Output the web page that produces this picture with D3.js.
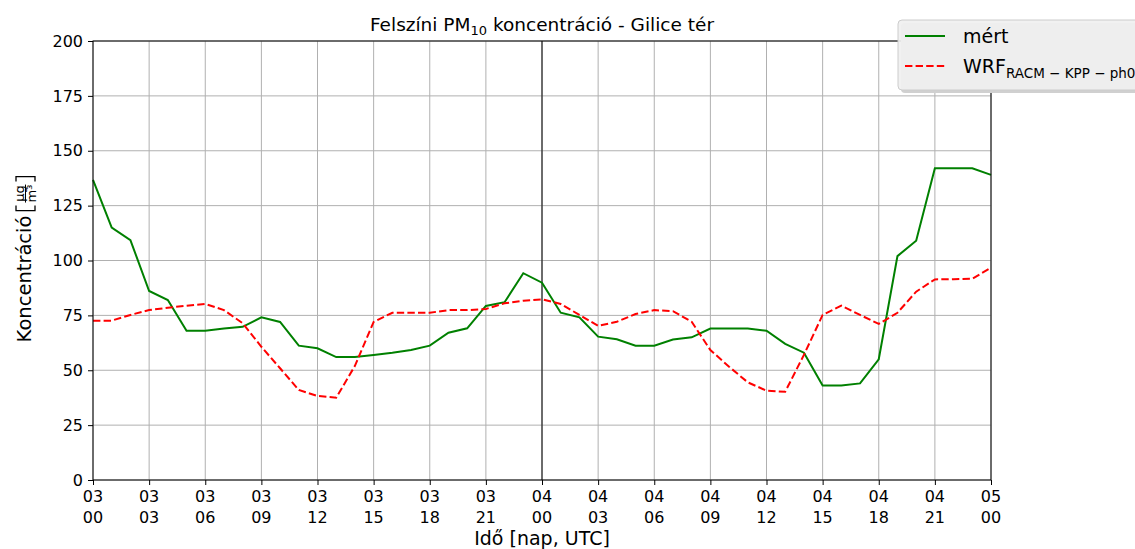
<!DOCTYPE html>
<html>
<head>
<meta charset="utf-8">
<script src="https://cdn.jsdelivr.net/npm/d3@7"></script>
<style>
  body { margin: 0; background: #fff; }
  text { font-family: "DejaVu Sans", sans-serif; fill: #000; }
</style>
</head>
<body>
<div class="chart"></div>
<script>
// hours since 03 00 UTC
var hours = d3.range(0, 49);

// measured PM10 (mért)
var measured = [136.7, 115, 109.3, 86.1, 82, 68, 68, 69, 69.8, 74.1, 72, 61.2, 60, 56, 56, 57, 58, 59.2, 61.2, 67.1,
  69.1, 79.3, 81, 94.2, 89.9, 76.2, 74.1, 65.3, 64.1, 61.2, 61.2, 64, 65, 69, 69, 69, 68, 62, 58, 43,
  43, 44, 55, 102, 109, 142, 142, 142, 139];

// WRF RACM-KPP-ph0 model
var model = [72.6, 72.6, 75.2, 77.4, 78.5, 79.4, 80.2, 77.4, 71.4, 60.7, 50.9, 41, 38.3, 37.5, 52, 72, 76.2, 76.2, 76.2, 77.4,
  77.4, 77.9, 80.5, 81.7, 82.3, 80.2, 75.2, 70.2, 72.1, 75.6, 77.4, 76.9, 72.1, 59.2, 51.6, 44.5, 40.7, 40.2, 57, 75.2,
  79.4, 75.2, 71.1, 76.2, 85.8, 91.4, 91.5, 91.7, 96.7];

var xTicks = [0, 3, 6, 9, 12, 15, 18, 21, 24, 27, 30, 33, 36, 39, 42, 45, 48];
var yTicks = [0, 25, 50, 75, 100, 125, 150, 175, 200];

var svgWidth = 1135;
var svgHeight = 549;
var margin = { top: 41, right: 144, bottom: 69, left: 93 };
var width = svgWidth - margin.left - margin.right;
var height = svgHeight - margin.top - margin.bottom;

var svg = d3.select(".chart").append("svg")
  .attr("width", svgWidth)
  .attr("height", svgHeight);

var chartGroup = svg.append("g")
  .attr("transform", `translate(${margin.left}, ${margin.top})`);

var x = d3.scaleLinear().domain([0, 48]).range([0, width]);
var y = d3.scaleLinear().domain([0, 200]).range([height, 0]);

// grid
chartGroup.append("g").selectAll("line").data(xTicks).enter().append("line")
  .attr("x1", d => x(d)).attr("x2", d => x(d))
  .attr("y1", 0).attr("y2", height)
  .attr("stroke", "#b0b0b0").attr("stroke-width", 1);
chartGroup.append("g").selectAll("line").data(yTicks).enter().append("line")
  .attr("x1", 0).attr("x2", width)
  .attr("y1", d => y(d)).attr("y2", d => y(d))
  .attr("stroke", "#b0b0b0").attr("stroke-width", 1);

// day separator
chartGroup.append("line")
  .attr("x1", x(24)).attr("x2", x(24))
  .attr("y1", 0).attr("y2", height)
  .attr("stroke", "#000").attr("stroke-width", 1);

// series
var line = d3.line()
  .x((d, i) => x(hours[i]))
  .y(d => y(d));

chartGroup.append("path")
  .datum(measured)
  .attr("d", line)
  .attr("fill", "none")
  .attr("stroke", "green")
  .attr("stroke-width", 2);

chartGroup.append("path")
  .datum(model)
  .attr("d", line)
  .attr("fill", "none")
  .attr("stroke", "red")
  .attr("stroke-width", 2)
  .attr("stroke-dasharray", "7.4,3.2");

// frame
chartGroup.append("rect")
  .attr("width", width).attr("height", height)
  .attr("fill", "none").attr("stroke", "#000").attr("stroke-width", 1);

// axes
var leftAxis = d3.axisLeft(y).tickValues(yTicks).tickSize(5).tickPadding(5);
var yAxis = chartGroup.append("g").call(leftAxis);
yAxis.select(".domain").remove();
yAxis.selectAll("text").style("font-size", "16px").attr("font-family", "DejaVu Sans");

var bottomAxis = d3.axisBottom(x).tickValues(xTicks).tickSize(5).tickFormat("");
var xAxis = chartGroup.append("g")
  .attr("transform", `translate(0, ${height})`)
  .call(bottomAxis);
xAxis.select(".domain").remove();

function tickLabel(h) {
  var day = 3 + Math.floor(h / 24);
  var hr = h % 24;
  return [String(day).padStart(2, "0"), String(hr).padStart(2, "0")];
}

var xLabels = chartGroup.append("g").selectAll("text").data(xTicks).enter().append("text")
  .attr("x", d => x(d))
  .attr("y", height + 22)
  .attr("text-anchor", "middle")
  .style("font-size", "16px");
xLabels.append("tspan").attr("x", d => x(d)).text(d => tickLabel(d)[0]);
xLabels.append("tspan").attr("x", d => x(d)).attr("dy", 21).text(d => tickLabel(d)[1]);

// x axis title
svg.append("text")
  .attr("x", margin.left + width / 2)
  .attr("y", 545)
  .attr("text-anchor", "middle")
  .style("font-size", "19px")
  .text("Idő [nap, UTC]");

// title
var title = svg.append("text")
  .attr("x", margin.left + width / 2)
  .attr("y", 31)
  .attr("text-anchor", "middle")
  .style("font-size", "18.5px");
title.append("tspan").text("Felszíni PM");
title.append("tspan").attr("dy", 4).style("font-size", "13px").text("10");
title.append("tspan").attr("dy", -4).text(" koncentráció - Gilice tér");

// y axis title with fraction
var yTitle = svg.append("g")
  .attr("transform", "translate(31, 260) rotate(-90)");
var yText = yTitle.append("text")
  .attr("x", 0).attr("y", 0)
  .style("font-size", "19.5px")
  .text("Koncentráció");
var tw = yText.node().getComputedTextLength();
var fracW = 34;
var start = -(tw + 4 + fracW) / 2;
yText.attr("x", start);
var bx = start + tw + 5;
// brackets
yTitle.append("path")
  .attr("d", `M${bx + 5},-15 H${bx} V4 H${bx + 5}`)
  .attr("fill", "none").attr("stroke", "#000").attr("stroke-width", 1.3);
yTitle.append("path")
  .attr("d", `M${bx + fracW - 5},-15 H${bx + fracW} V4 H${bx + fracW - 5}`)
  .attr("fill", "none").attr("stroke", "#000").attr("stroke-width", 1.3);
var fracX = bx + fracW / 2;
yTitle.append("text").attr("x", fracX).attr("y", -7).attr("text-anchor", "middle")
  .style("font-size", "13px").text("µg");
yTitle.append("line").attr("x1", fracX - 9).attr("x2", fracX + 9)
  .attr("y1", -5.5).attr("y2", -5.5).attr("stroke", "#000").attr("stroke-width", 1);
yTitle.append("text").attr("x", fracX).attr("y", 5).attr("text-anchor", "middle")
  .style("font-size", "13px").text("m³");

// legend
var legend = svg.append("g").attr("transform", "translate(898, 20)");
legend.append("rect")
  .attr("x", 3).attr("y", 3).attr("width", 260).attr("height", 70).attr("rx", 4)
  .attr("fill", "#d0d0d0");
legend.append("rect")
  .attr("x", 0).attr("y", 0).attr("width", 260).attr("height", 70).attr("rx", 4)
  .attr("fill", "#f0f0f0").attr("fill-opacity", 0.92)
  .attr("stroke", "#cccccc").attr("stroke-width", 1);
legend.append("line")
  .attr("x1", 7).attr("x2", 47).attr("y1", 16).attr("y2", 16)
  .attr("stroke", "green").attr("stroke-width", 2);
legend.append("line")
  .attr("x1", 7).attr("x2", 47).attr("y1", 46).attr("y2", 46)
  .attr("stroke", "red").attr("stroke-width", 2).attr("stroke-dasharray", "7.4,3.2");
legend.append("text").attr("x", 65).attr("y", 23).style("font-size", "19px").text("mért");
var wrf = legend.append("text").attr("x", 65).attr("y", 53).style("font-size", "19px");
wrf.append("tspan").text("WRF");
wrf.append("tspan").attr("dy", 5).style("font-size", "13.5px").text("RACM − KPP − ph0");
</script>
</body>
</html>
